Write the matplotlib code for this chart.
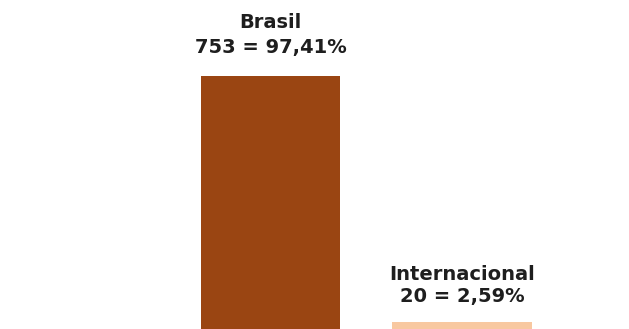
import matplotlib
matplotlib.use("Agg")
import matplotlib.pyplot as plt

categories = ["Brasil", "Internacional"]
counts = [753, 20]
percent_labels = ["97,41%", "2,59%"]
colors = ["#9A4512", "#F8C8A0"]

fig = plt.figure(figsize=(6.29, 3.29), dpi=100)
ax = fig.add_axes([0, 0, 1, 1])
x = [0, 1]
bars = ax.bar(x, counts, width=0.73, color=colors)
ax.set_xlim(-1.4125, 1.872)
ax.set_ylim(0, 979)
ax.axis("off")

offsets = [(28, 53), (26, 48)]
for xi, c, cat, pct, (o2, o1) in zip(x, counts, categories, percent_labels, offsets):
    ax.annotate(f"{c} = {pct}", (xi, c), xytext=(0, o2), textcoords="offset pixels",
                ha="center", va="center", fontsize=14, fontweight="bold",
                family="DejaVu Sans", color="#1e1e1e")
    ax.annotate(cat, (xi, c), xytext=(0, o1), textcoords="offset pixels",
                ha="center", va="center", fontsize=14, fontweight="bold",
                family="DejaVu Sans", color="#1e1e1e")

fig.savefig("out.png", dpi=100)
